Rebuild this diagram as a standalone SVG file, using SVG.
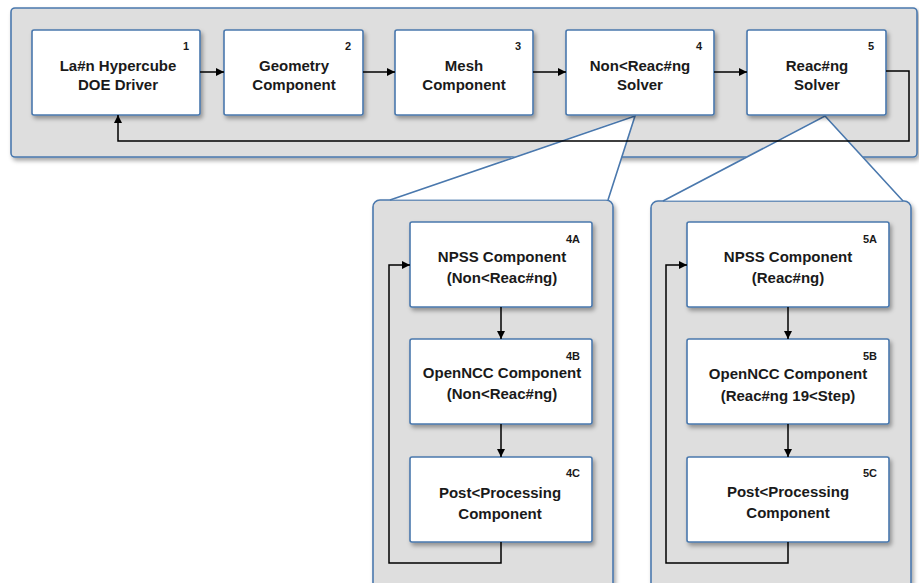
<svg xmlns="http://www.w3.org/2000/svg" width="919" height="583" viewBox="0 0 919 583">
<style>
.cont{fill:#dedede;stroke:#4a78ad;stroke-width:1.6}
.box{fill:#ffffff;stroke:#4a78ad;stroke-width:1.6}
.co{fill:#ffffff;stroke:none}
.col{fill:none;stroke:#4a78ad;stroke-width:1.6}
.t{font-family:"Liberation Sans",Arial,sans-serif;font-weight:bold;font-size:15px;fill:#1a1a1a;text-anchor:middle}
.n{font-family:"Liberation Sans",Arial,sans-serif;font-weight:bold;font-size:11px;fill:#1a1a1a;text-anchor:end}
.c{fill:none;stroke:#000;stroke-width:1.5}
</style>
<defs>
<filter id="sh" x="-10%" y="-10%" width="130%" height="140%">
<feDropShadow dx="2" dy="3" stdDeviation="2" flood-color="#000" flood-opacity="0.35"/>
</filter>
<marker id="ah" viewBox="0 0 10 10" refX="10" refY="5" markerWidth="8" markerHeight="8" markerUnits="userSpaceOnUse" orient="auto">
<path d="M0,0 L10,5 L0,10 z" fill="#000"/>
</marker>
</defs>
<g id="containers">
<rect id="main" class="cont" x="11" y="8" width="906" height="149" rx="4" filter="url(#sh)"/>
<rect id="sub4" class="cont" x="373" y="200" width="240" height="395" rx="7" filter="url(#sh)"/>
<rect id="sub5" class="cont" x="651" y="201" width="260" height="395" rx="7" filter="url(#sh)"/>
</g>
<g id="callouts">
<polygon class="co" points="635,115 390,199.5 608,199.5"/>
<polyline class="col" points="390,200 635,116 608,200"/>
<polygon class="co" points="825,115 663,200.5 903,200.5"/>
<polyline class="col" points="663,201 825,116 903,201"/>
</g>
<g id="n1"><rect class="box" x="32" y="30" width="168" height="85" rx="2" filter="url(#sh)"/><text class="n" x="189" y="50">1</text><text class="t" x="118" y="71">La#n Hypercube</text><text class="t" x="118" y="90">DOE Driver</text></g>
<g id="n2"><rect class="box" x="224" y="30" width="139" height="85" rx="2" filter="url(#sh)"/><text class="n" x="351" y="50">2</text><text class="t" x="294" y="71">Geometry</text><text class="t" x="294" y="90">Component</text></g>
<g id="n3"><rect class="box" x="395" y="30" width="138" height="85" rx="2" filter="url(#sh)"/><text class="n" x="521" y="50">3</text><text class="t" x="464" y="71">Mesh</text><text class="t" x="464" y="90">Component</text></g>
<g id="n4"><rect class="box" x="566" y="30" width="148" height="85" rx="2" filter="url(#sh)"/><text class="n" x="702" y="50">4</text><text class="t" x="640" y="71">Non&lt;Reac#ng</text><text class="t" x="640" y="90">Solver</text></g>
<g id="n5"><rect class="box" x="747" y="30" width="139" height="85" rx="2" filter="url(#sh)"/><text class="n" x="874" y="50">5</text><text class="t" x="817" y="71">Reac#ng</text><text class="t" x="817" y="90">Solver</text></g>
<g id="n4A"><rect class="box" x="410" y="222" width="182" height="85" rx="2" filter="url(#sh)"/><text class="n" x="580" y="243">4A</text><text class="t" x="502" y="262">NPSS Component</text><text class="t" x="502" y="283">(Non&lt;Reac#ng)</text></g>
<g id="n4B"><rect class="box" x="410" y="339" width="182" height="85" rx="2" filter="url(#sh)"/><text class="n" x="580" y="360">4B</text><text class="t" x="502" y="378">OpenNCC Component</text><text class="t" x="502" y="399">(Non&lt;Reac#ng)</text></g>
<g id="n4C"><rect class="box" x="410" y="457" width="182" height="85" rx="2" filter="url(#sh)"/><text class="n" x="580" y="477">4C</text><text class="t" x="500" y="498">Post&lt;Processing</text><text class="t" x="500" y="519">Component</text></g>
<g id="n5A"><rect class="box" x="687" y="222" width="202" height="85" rx="2" filter="url(#sh)"/><text class="n" x="877" y="243">5A</text><text class="t" x="788" y="262">NPSS Component</text><text class="t" x="788" y="283">(Reac#ng)</text></g>
<g id="n5B"><rect class="box" x="687" y="339" width="202" height="85" rx="2" filter="url(#sh)"/><text class="n" x="877" y="360">5B</text><text class="t" x="788" y="379">OpenNCC Component</text><text class="t" x="788" y="401">(Reac#ng 19&lt;Step)</text></g>
<g id="n5C"><rect class="box" x="687" y="457" width="202" height="85" rx="2" filter="url(#sh)"/><text class="n" x="877" y="477">5C</text><text class="t" x="788" y="497">Post&lt;Processing</text><text class="t" x="788" y="518">Component</text></g>
<g id="connectors">
<line class="c" x1="200" y1="72" x2="224" y2="72" marker-end="url(#ah)"/>
<line class="c" x1="363" y1="72" x2="395" y2="72" marker-end="url(#ah)"/>
<line class="c" x1="533" y1="72" x2="566" y2="72" marker-end="url(#ah)"/>
<line class="c" x1="714" y1="72" x2="747" y2="72" marker-end="url(#ah)"/>
<polyline class="c" points="886,71 909,71 909,141 118,141 118,115" marker-end="url(#ah)"/>
<line class="c" x1="501" y1="307" x2="501" y2="339" marker-end="url(#ah)"/>
<line class="c" x1="501" y1="424" x2="501" y2="457" marker-end="url(#ah)"/>
<polyline class="c" points="501,542 501,563 389,563 389,265 410,265" marker-end="url(#ah)"/>
<line class="c" x1="788" y1="307" x2="788" y2="339" marker-end="url(#ah)"/>
<line class="c" x1="788" y1="424" x2="788" y2="457" marker-end="url(#ah)"/>
<polyline class="c" points="788,542 788,563 666,563 666,265 687,265" marker-end="url(#ah)"/>
</g>
</svg>
